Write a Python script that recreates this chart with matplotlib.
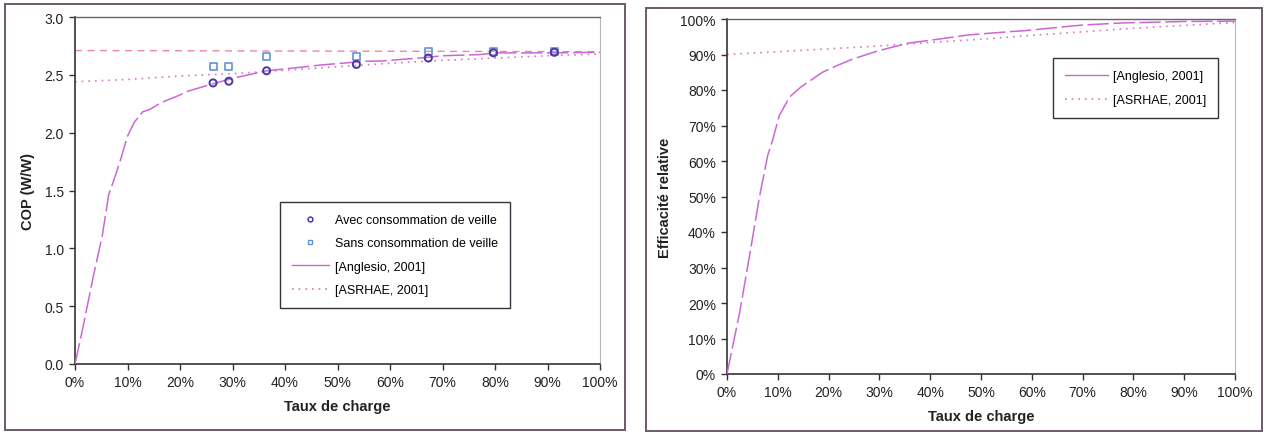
import matplotlib
matplotlib.use("Agg")
import matplotlib.pyplot as plt
from matplotlib.lines import Line2D
from matplotlib.patches import Rectangle
from matplotlib.ticker import PercentFormatter, FormatStrFormatter

plt.rcParams['font.family'] = ['Liberation Sans', 'DejaVu Sans']

# ---------------- data (left: COP) ----------------
load_points = [0.263, 0.293, 0.365, 0.536, 0.673, 0.797, 0.913]
cop_avec = [2.43, 2.445, 2.535, 2.59, 2.645, 2.69, 2.695]
cop_sans = [2.57, 2.575, 2.657, 2.657, 2.70, 2.70, 2.703]

anglesio_x = [0.0, 0.013, 0.035, 0.052, 0.064, 0.077, 0.087, 0.10, 0.113, 0.129,
              0.142, 0.164, 0.197, 0.216, 0.261, 0.30, 0.365, 0.439, 0.468,
              0.552, 0.584, 0.668, 0.70, 0.771, 0.804, 0.914, 1.0]
anglesio_cop = [0.0, 0.27, 0.76, 1.11, 1.46, 1.63, 1.77, 1.97, 2.09, 2.18,
                2.20, 2.26, 2.32, 2.36, 2.42, 2.47, 2.535, 2.57, 2.585,
                2.617, 2.62, 2.65, 2.665, 2.675, 2.69, 2.69, 2.695]

ashrae_x = [0.0, 0.1, 0.2, 0.3, 0.4, 0.5, 0.6, 0.7, 0.8, 0.9, 1.0]
ashrae_cop = [2.44, 2.46, 2.49, 2.51, 2.54, 2.57, 2.60, 2.625, 2.645, 2.665, 2.68]

nominal_x = [0.0, 1.0]
nominal_cop = [2.71, 2.70]

# ---------------- data (right: relative efficiency) ----------------
anglesio_eff_x = [0.0, 0.025, 0.044, 0.064, 0.080, 0.090, 0.103, 0.123, 0.145,
                  0.188, 0.217, 0.247, 0.299, 0.357, 0.41, 0.475, 0.553, 0.585,
                  0.67, 0.70, 0.78, 0.814, 0.898, 1.0]
anglesio_eff = [0.0, 0.174, 0.33, 0.50, 0.615, 0.66, 0.728, 0.78, 0.808,
                0.85, 0.869, 0.887, 0.911, 0.932, 0.942, 0.955, 0.964, 0.967,
                0.979, 0.983, 0.989, 0.99, 0.993, 0.994]

ashrae_eff_x = [0.0, 0.1, 0.2, 0.3, 0.4, 0.5, 0.6, 0.7, 0.8, 0.9, 1.0]
ashrae_eff = [0.90, 0.908, 0.916, 0.924, 0.934, 0.943, 0.954, 0.964, 0.974, 0.982, 0.99]

x_ticks = [0.0, 0.1, 0.2, 0.3, 0.4, 0.5, 0.6, 0.7, 0.8, 0.9, 1.0]
cop_ticks = [0.0, 0.5, 1.0, 1.5, 2.0, 2.5, 3.0]
eff_ticks = [0.0, 0.1, 0.2, 0.3, 0.4, 0.5, 0.6, 0.7, 0.8, 0.9, 1.0]

# ---------------- styling ----------------
W, H = 1265, 435
fig = plt.figure(figsize=(W / 100, H / 100), dpi=100)

c_ang = '#cc66d6'
c_ash = '#d27cc0'
c_nom = '#eb86a8'
c_avec = '#4a3aa0'
c_sans = '#5f92dc'
dash_long = (0, (14, 3))
dots = (0, (1, 3))

def px_axes(x0, x1, ytop, ybot):
    return fig.add_axes([x0 / W, (H - ybot) / H, (x1 - x0) / W, (ybot - ytop) / H])

def style_axes(ax):
    for s in ['left', 'bottom']:
        ax.spines[s].set_color('#333333')
        ax.spines[s].set_linewidth(1.2)
    ax.spines['top'].set_color('#6e5f70')
    ax.spines['top'].set_linewidth(1.0)
    ax.spines['right'].set_color('#b8b8b8')
    ax.spines['right'].set_linewidth(0.8)
    ax.tick_params(direction='out', length=4, width=1, color='#333333',
                   labelsize=10, labelcolor='#222222', pad=4)
    ax.set_xlim(0, 1)
    ax.set_xticks(x_ticks)
    ax.xaxis.set_major_formatter(PercentFormatter(xmax=1, decimals=0))
    ax.set_xlabel('Taux de charge', fontsize=10.5, fontweight='bold',
                  color='#222222', labelpad=7)

# frames around each panel
fig.patches.append(Rectangle((5 / W, (H - 431) / H), 620 / W, 426 / H,
                             transform=fig.transFigure, fill=False,
                             edgecolor='#6a5a6c', linewidth=1.4))
fig.patches.append(Rectangle((646 / W, (H - 432) / H), 616 / W, 423 / H,
                             transform=fig.transFigure, fill=False,
                             edgecolor='#6a5a6c', linewidth=1.4))

# ---------------- left chart ----------------
ax1 = px_axes(75, 600, 18, 365)
style_axes(ax1)
ax1.set_ylim(0, 3.0)
ax1.set_yticks(cop_ticks)
ax1.yaxis.set_major_formatter(FormatStrFormatter('%.1f'))
ax1.set_ylabel('COP (W/W)', fontsize=10.5, fontweight='bold', color='#222222',
               labelpad=7)

ax1.plot(nominal_x, nominal_cop, color=c_nom, lw=1.0, ls=(0, (5, 4)), zorder=2)
ax1.plot(ashrae_x, ashrae_cop, color=c_ash, lw=1.2, ls=dots, zorder=2)
ax1.plot(anglesio_x, anglesio_cop, color=c_ang, lw=1.1, ls=dash_long, zorder=3)
ax1.scatter(load_points, cop_sans, marker='s', s=26, facecolors='none',
            edgecolors=c_sans, linewidths=1.2, zorder=4)
ax1.scatter(load_points, cop_avec, marker='o', s=26, facecolors='none',
            edgecolors=c_avec, linewidths=1.4, zorder=5)

h_avec = Line2D([], [], ls='none', marker='o', ms=3.5, mfc='none', mec=c_avec, mew=1.1)
h_sans = Line2D([], [], ls='none', marker='s', ms=3.5, mfc='none', mec=c_sans, mew=1.0)
h_ang = Line2D([], [], color=c_ang, lw=1.0)
h_ash = Line2D([], [], color=c_ash, lw=1.2, ls=dots)

leg1 = ax1.legend([h_avec, h_sans, h_ang, h_ash],
                  ['Avec consommation de veille', 'Sans consommation de veille',
                   '[Anglesio, 2001]', '[ASRHAE, 2001]'],
                  loc='upper left', bbox_to_anchor=(0.39, 0.466),
                  borderaxespad=0, fontsize=9, frameon=True, fancybox=False,
                  edgecolor='#3a2f3c', framealpha=1, borderpad=0.95,
                  labelspacing=0.9, handlelength=3.0, handletextpad=0.45)
leg1.get_frame().set_linewidth(1.0)

# ---------------- right chart ----------------
ax2 = px_axes(727, 1235, 20, 375)
style_axes(ax2)
ax2.set_ylim(0, 1.0)
ax2.set_yticks(eff_ticks)
ax2.yaxis.set_major_formatter(PercentFormatter(xmax=1, decimals=0))
ax2.set_ylabel('Efficacité relative', fontsize=10.5, fontweight='bold',
               color='#222222', labelpad=6)

ax2.plot(ashrae_eff_x, ashrae_eff, color=c_ash, lw=1.2, ls=dots, zorder=2)
ax2.plot(anglesio_eff_x, anglesio_eff, color=c_ang, lw=1.1, ls=dash_long, zorder=3)

leg2 = ax2.legend([h_ang, h_ash], ['[Anglesio, 2001]', '[ASRHAE, 2001]'],
                  loc='upper left', bbox_to_anchor=(0.642, 0.89),
                  borderaxespad=0, fontsize=9, frameon=True, fancybox=False,
                  edgecolor='#3a2f3c', framealpha=1, borderpad=0.95,
                  labelspacing=1.0, handlelength=3.4, handletextpad=0.4)
leg2.get_frame().set_linewidth(1.0)

fig.savefig('out.png', dpi=100)
